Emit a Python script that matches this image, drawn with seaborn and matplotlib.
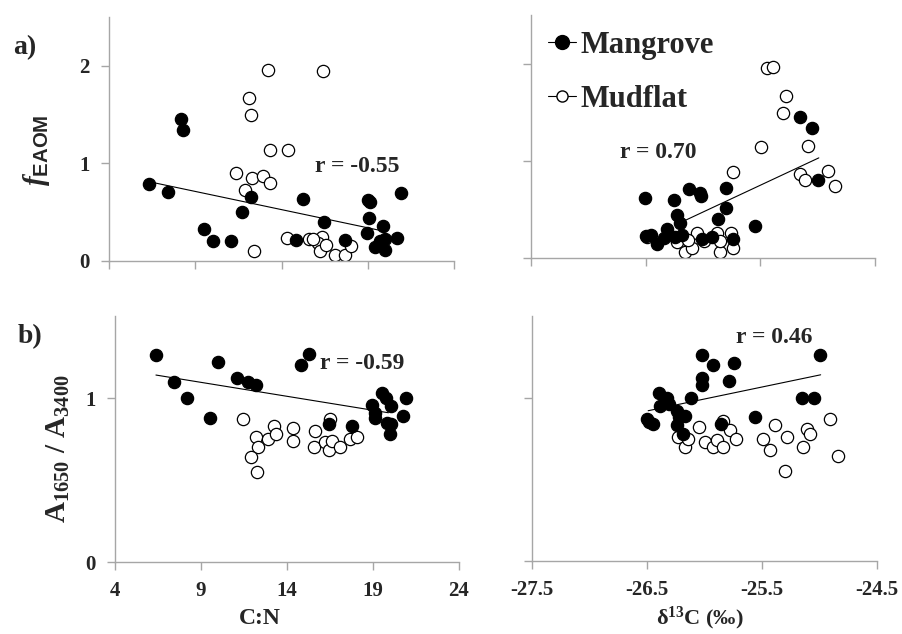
import matplotlib
matplotlib.use("Agg")
import matplotlib.pyplot as plt
from matplotlib.lines import Line2D
import seaborn as sns

# ---- data ----
# a) f_EAOM vs C:N
cn_mangrove_a = [6.34, 7.42, 8.19, 8.27, 9.50, 10.0, 11.08, 11.70, 12.22, 14.83, 15.22, 16.45,
                 17.71, 18.98, 19.04, 19.15, 19.08, 19.89, 19.42, 19.69, 20.0, 19.98, 20.72, 20.91]
f_mangrove_cn = [0.79, 0.71, 1.45, 1.34, 0.33, 0.20, 0.20, 0.50, 0.66, 0.22, 0.64, 0.40,
                 0.22, 0.29, 0.62, 0.60, 0.44, 0.36, 0.14, 0.21, 0.23, 0.11, 0.24, 0.70]
cn_mudflat_a = [13.23, 16.41, 12.13, 12.26, 13.32, 14.35, 11.39, 12.28, 12.92, 13.32, 11.86, 12.42,
                14.29, 15.60, 16.03, 16.32, 16.12, 16.26, 16.57, 17.09, 17.67, 18.05, 15.83]
f_mudflat_cn = [1.96, 1.95, 1.67, 1.50, 1.14, 1.14, 0.90, 0.85, 0.87, 0.80, 0.73, 0.10,
                0.24, 0.23, 0.20, 0.25, 0.18, 0.10, 0.16, 0.06, 0.06, 0.15, 0.23]

# a) f_EAOM vs d13C
d13c_mangrove_a = [-26.51, -26.50, -26.45, -26.40, -26.34, -26.31, -26.25, -26.23, -26.24, -26.20,
                   -26.18, -26.12, -26.03, -26.02, -26.01, -25.92, -25.87, -25.80, -25.80, -25.74,
                   -25.55, -25.15, -25.05, -25.00]
f_mangrove_d13c = [0.62, 0.23, 0.24, 0.14, 0.21, 0.30, 0.60, 0.44, 0.22, 0.36,
                   0.24, 0.71, 0.67, 0.64, 0.20, 0.22, 0.40, 0.72, 0.51, 0.20,
                   0.33, 1.45, 1.34, 0.80]
d13c_mudflat_a = [-25.44, -25.39, -25.28, -25.30, -25.49, -25.08, -25.74, -25.15, -25.11, -24.91,
                  -24.85, -26.49, -26.23, -26.16, -26.10, -26.05, -25.99, -25.88, -25.85, -25.85,
                  -25.76, -25.74, -26.13]
f_mudflat_d13c = [1.95, 1.96, 1.67, 1.49, 1.14, 1.15, 0.88, 0.86, 0.80, 0.90,
                  0.74, 0.22, 0.16, 0.06, 0.10, 0.26, 0.18, 0.26, 0.06, 0.18,
                  0.26, 0.10, 0.19]

# b) A1650/A3400 vs C:N
cn_mangrove_b = [6.36, 7.43, 8.20, 9.50, 10.0, 11.07, 11.71, 12.2, 14.82, 15.25, 16.45, 17.79,
                 18.97, 19.10, 19.14, 19.51, 19.78, 20.03, 19.82, 20.07, 19.97, 20.73, 20.94]
a_mangrove_cn = [1.26, 1.10, 1.00, 0.88, 1.22, 1.12, 1.10, 1.08, 1.20, 1.27, 0.84, 0.83,
                 0.96, 0.91, 0.88, 1.03, 1.00, 0.95, 0.85, 0.84, 0.78, 0.89, 1.00]
cn_mudflat_b = [11.42, 12.17, 12.3, 11.92, 12.28, 12.91, 13.24, 13.36, 14.32, 14.36, 15.62, 15.58,
                16.2, 16.49, 16.45, 16.62, 17.11, 17.69, 18.09]
a_mudflat_cn = [0.87, 0.76, 0.70, 0.64, 0.55, 0.75, 0.83, 0.78, 0.82, 0.74, 0.80, 0.70,
                0.73, 0.87, 0.68, 0.74, 0.70, 0.75, 0.76]

# b) A1650/A3400 vs d13C
d13c_mangrove_b = [-26.50, -26.48, -26.45, -26.40, -26.33, -26.39, -26.31, -26.24, -26.22, -26.17,
                   -26.24, -26.19, -26.12, -26.02, -26.02, -26.02, -25.93, -25.79, -25.74, -25.86,
                   -25.56, -25.15, -25.05, -25.00]
a_mangrove_d13c = [0.87, 0.85, 0.84, 1.03, 1.00, 0.95, 0.96, 0.92, 0.88, 0.89,
                   0.83, 0.78, 1.00, 1.08, 1.12, 1.26, 1.20, 1.10, 1.21, 0.84,
                   0.88, 1.00, 1.00, 1.26]
d13c_mudflat_b = [-26.23, -26.17, -26.14, -26.05, -26.0, -25.93, -25.89, -25.84, -25.84, -25.78,
                  -25.73, -25.49, -25.43, -25.39, -25.28, -25.30, -25.14, -25.11, -25.08, -24.91,
                  -24.84]
a_mudflat_d13c = [0.76, 0.70, 0.75, 0.82, 0.73, 0.70, 0.74, 0.70, 0.86, 0.80,
                  0.75, 0.75, 0.68, 0.83, 0.76, 0.55, 0.70, 0.81, 0.78, 0.87,
                  0.64]

# trend lines (end points as drawn in the figure) and r values
trend_a_cn_x, trend_a_cn_y = [6.66, 20.08], [0.80, 0.30]
trend_a_d13c_x, trend_a_d13c_y = [-26.15, -24.99], [0.39, 1.03]
trend_b_cn_x, trend_b_cn_y = [6.38, 19.9], [1.14, 0.91]
trend_b_d13c_x, trend_b_d13c_y = [-26.49, -24.99], [0.92, 1.14]
r_labels = ["r = -0.55", "r = 0.70", "r = -0.59", "r = 0.46"]
r_pos = [(15.93, 0.97), (-26.72, 1.09), (15.91, 1.21), (-25.73, 1.37)]

cn_ticks = [4, 9, 14, 19, 24]
d13c_ticks = [-27.5, -26.5, -25.5, -24.5]

# ---- style ----
sns.set_style("white")
plt.rcParams['font.family'] = ['Liberation Serif', 'DejaVu Serif']
plt.rcParams['font.weight'] = 'bold'
plt.rcParams['mathtext.fontset'] = 'custom'
plt.rcParams['mathtext.rm'] = 'Liberation Serif:bold'
plt.rcParams['mathtext.bf'] = 'Liberation Serif:bold'
plt.rcParams['mathtext.it'] = 'Liberation Serif:italic:bold'
plt.rcParams['mathtext.sf'] = 'Liberation Sans:bold'
plt.rcParams['mathtext.default'] = 'rm'

W, H = 902, 634
fig = plt.figure(figsize=(W / 100, H / 100), dpi=100)


def px_axes(left, top, right, bottom):
    return fig.add_axes([left / W, 1 - bottom / H, (right - left) / W, (bottom - top) / H])


ax_tl = px_axes(109, 17, 454, 261)
ax_tr = px_axes(531, 15, 875, 258)
ax_bl = px_axes(115, 316, 459, 562)
ax_br = px_axes(532, 316, 877, 561)

panels = [
    (ax_tl, cn_mangrove_a, f_mangrove_cn, cn_mudflat_a, f_mudflat_cn, trend_a_cn_x, trend_a_cn_y),
    (ax_tr, d13c_mangrove_a, f_mangrove_d13c, d13c_mudflat_a, f_mudflat_d13c, trend_a_d13c_x, trend_a_d13c_y),
    (ax_bl, cn_mangrove_b, a_mangrove_cn, cn_mudflat_b, a_mudflat_cn, trend_b_cn_x, trend_b_cn_y),
    (ax_br, d13c_mangrove_b, a_mangrove_d13c, d13c_mudflat_b, a_mudflat_d13c, trend_b_d13c_x, trend_b_d13c_y),
]

gray = '#a6a6a6'
for i, (ax, mx, my, ux, uy, tx, ty) in enumerate(panels):
    sns.scatterplot(x=ux, y=uy, ax=ax, color='white', edgecolor='black', s=78, linewidth=0.9, zorder=2)
    sns.scatterplot(x=mx, y=my, ax=ax, color='black', edgecolor='black', s=78, linewidth=0.9, zorder=3)
    sns.lineplot(x=tx, y=ty, ax=ax, color='black', linewidth=0.8, sort=False, zorder=4)
    ax.text(r_pos[i][0], r_pos[i][1], r_labels[i], fontsize=17, fontweight='bold', va='center', ha='left')

    for side in ['top', 'right']:
        ax.spines[side].set_visible(False)
    for side in ['left', 'bottom']:
        ax.spines[side].set_color(gray)
        ax.spines[side].set_linewidth(1.0)
    ax.tick_params(direction='out', length=6, width=1.0, color=gray, labelsize=15, pad=8,
                   left=True, bottom=True)
    ax.set_xlabel('')
    ax.set_ylabel('')

for ax in (ax_tl, ax_bl):
    ax.set_xlim(4, 24)
    ax.set_xticks(cn_ticks)
for ax in (ax_tr, ax_br):
    ax.set_xlim(-27.5, -24.5)
    ax.set_xticks(d13c_ticks)
for ax in (ax_tl, ax_tr):
    ax.set_ylim(0, 2.5)
    ax.set_yticks([0, 1, 2])
    ax.set_xticklabels([])
for ax in (ax_bl, ax_br):
    ax.set_ylim(0, 1.5)
    ax.set_yticks([0, 1])
ax_tr.set_yticklabels([])
ax_br.set_yticklabels([])
ax_bl.set_xticklabels([str(t) for t in cn_ticks])
ax_br.set_xticklabels([str(t) for t in d13c_ticks])

# legend
handles = [
    Line2D([0], [0], marker='o', color='black', lw=0.8, markerfacecolor='black',
           markeredgecolor='black', markersize=10),
    Line2D([0], [0], marker='o', color='black', lw=0.8, markerfacecolor='white',
           markeredgecolor='black', markersize=8),
]
ax_tr.legend(handles, ['Mangrove', 'Mudflat'], loc='upper left', frameon=False,
             bbox_to_anchor=(548 / W, 1 - 31 / H), bbox_transform=fig.transFigure,
             prop={'size': 22, 'weight': 'bold'}, handlelength=0.9, handletextpad=0.15,
             labelspacing=0.82, borderpad=0, borderaxespad=0)

# labels
fig.text(25 / W, 1 - 48 / H, 'a)', fontsize=20, fontweight='bold', ha='center', va='center')
fig.text(30 / W, 1 - 337 / H, 'b)', fontsize=20, fontweight='bold', ha='center', va='center')
fig.text(37 / W, 1 - 150 / H, r'$\mathit{f}_{\mathsf{EAOM}}$', fontsize=21, rotation=90,
         ha='center', va='center')
fig.text(58 / W, 1 - 449 / H, r'$A_{1650}$ / $A_{3400}$', fontsize=21, fontweight='bold',
         rotation=90, ha='center', va='center')
fig.text(260 / W, 1 - 619 / H, 'C:N', fontsize=17, fontweight='bold', ha='center', va='center')
fig.text(700 / W, 1 - 618 / H, 'δ$^{13}$C (‰)', fontsize=16, fontweight='bold', ha='center', va='center')

fig.savefig('out.png', dpi=100)
